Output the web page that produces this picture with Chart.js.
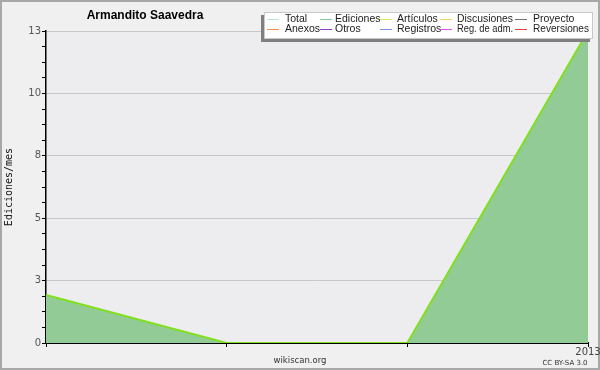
<!DOCTYPE html>
<html>
<head>
<meta charset="utf-8">
<script src="https://cdn.jsdelivr.net/npm/chart.js@4"></script>
<style>
  html, body { margin: 0; padding: 0; background: #f0f0f0; }
  #wrap { position: relative; width: 600px; height: 370px; box-sizing: border-box; border: 2px solid #a8a8a8; }
  canvas { position: absolute; left: -2px; top: -2px; }
</style>
</head>
<body>
<div id="wrap"><canvas id="chart" width="600" height="370"></canvas></div>
<script>
// data
const months = ['', '', '', '2013'];
const ediciones = [2, 0, 0, 13];
const yLabels = ['0', '3', '5', '8', '10', '13'];

const legendNames = ['Total', 'Ediciones', 'Artículos', 'Discusiones', 'Proyecto',
                     'Anexos', 'Otros', 'Registros', 'Reg. de adm.', 'Reversiones'];
const legendColors = ['#b0e8e4', '#88cc98', '#d0ee60', '#f8d468', '#707070',
                      '#f09050', '#9040c8', '#8090f0', '#d858e8', '#e84040'];

// title, axis title, legend box, credits
const decor = {
    id: 'decor',
    beforeDraw(chart) {
        const c = chart.ctx, a = chart.chartArea;
        c.save();
        c.fillStyle = '#ededf0';
        c.fillRect(a.left, a.top, a.right - a.left, a.bottom - a.top);
        c.restore();
    },
    afterDraw(chart) {
        const c = chart.ctx;
        c.save();
        c.fillStyle = '#000';
        c.font = 'bold 12px "Liberation Sans", sans-serif';
        c.textAlign = 'center';
        c.textBaseline = 'middle';
        c.fillText('Armandito Saavedra', 145, 16);

        c.save();
        c.translate(9, 187);
        c.rotate(-Math.PI / 2);
        c.font = '10px "DejaVu Sans Mono", monospace';
        c.fillStyle = '#111';
        c.fillText('Ediciones/mes', 0, 0);
        c.restore();

        c.font = '8.5px "DejaVu Sans", sans-serif';
        c.fillStyle = '#333';
        c.fillText('wikiscan.org', 300, 361);
        c.font = '7px "DejaVu Sans", sans-serif';
        c.fillText('CC BY-SA 3.0', 565, 363);

        // legend
        c.fillStyle = '#808080';
        c.fillRect(261, 15, 329, 27);
        c.fillStyle = '#ffffff';
        c.fillRect(264, 12, 329, 27);
        c.strokeStyle = '#c8c8c8';
        c.lineWidth = 1;
        c.strokeRect(264.5, 12.5, 328, 26);
        const lineX = [267, 320, 380, 440, 515];
        const textX = [285, 335, 397, 457, 533];
        c.font = '10.5px "Liberation Sans", sans-serif';
        c.textAlign = 'left';
        for (let i = 0; i < legendNames.length; i++) {
            const col = i % 5, row = Math.floor(i / 5);
            const y = row ? 29 : 19;
            c.strokeStyle = legendColors[i];
            c.beginPath();
            c.moveTo(lineX[col], y + 0.5);
            c.lineTo(lineX[col] + 12, y + 0.5);
            c.stroke();
            c.fillStyle = '#222';
            c.fillText(legendNames[i], textX[col], y, 56);
        }
        c.restore();
    }
};

const ctx = document.getElementById('chart').getContext('2d');
new Chart(ctx, {
    type: 'line',
    data: {
        labels: months,
        datasets: [
            {
                label: 'Ediciones',
                data: ediciones,
                borderColor: '#80e020',
                borderWidth: 2,
                backgroundColor: '#93cb97',
                fill: 'origin',
                pointRadius: 0,
                tension: 0
            }
        ]
    },
    options: {
        animation: false,
        responsive: false,
        layout: { padding: { top: 31, right: 12, left: 0, bottom: 0 } },
        plugins: { legend: { display: false }, tooltip: { enabled: false } },
        scales: {
            x: {
                z: 1,
                offset: false,
                grid: { drawOnChartArea: false, drawTicks: true, tickLength: 4, tickColor: '#000' },
                border: { color: '#000', width: 2 },
                ticks: {
                    color: '#444', font: { size: 10, family: 'DejaVu Sans' },
                    maxRotation: 0, autoSkip: false, padding: -1
                },
                afterFit(s) { s.height = 27; }
            },
            y: {
                min: 0,
                max: 13,
                afterBuildTicks(s) {
                    const t = [];
                    for (let i = 0; i <= 20; i++) t.push({ value: i * 0.65 });
                    s.ticks = t;
                },
                grid: {
                    color: (g) => (g.index % 4 === 0 && g.index > 0) ? '#c8c8cc' : 'rgba(0,0,0,0)',
                    tickColor: '#000',
                    tickLength: 4
                },
                border: { color: '#000', width: 1.5 },
                ticks: {
                    color: '#555', font: { size: 10, family: 'DejaVu Sans' }, padding: 1,
                    callback: (v, i) => i % 4 === 0 ? yLabels[i / 4] : ''
                },
                afterFit(s) { s.width = 46; }
            }
        }
    },
    plugins: [decor]
});
</script>
</body>
</html>
